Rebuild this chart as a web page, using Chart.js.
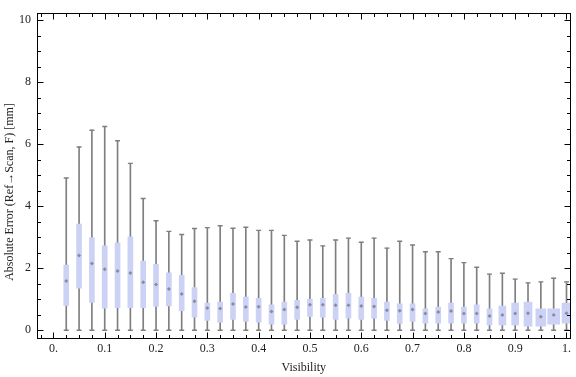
<!DOCTYPE html>
<html>
<head>
<meta charset="utf-8">
<script src="https://cdn.jsdelivr.net/npm/chart.js@4.4.1/dist/chart.umd.min.js"></script>
<style>
  html, body { margin: 0; padding: 0; background: #fff; }
</style>
</head>
<body>
<canvas id="errorChart" width="576" height="377"></canvas>
<script>
// visibility bins (box centres)
const visibility = [0.025, 0.05, 0.075, 0.1, 0.125, 0.15, 0.175, 0.2, 0.225, 0.25,
  0.275, 0.3, 0.325, 0.35, 0.375, 0.4, 0.425, 0.45, 0.475, 0.5,
  0.525, 0.55, 0.575, 0.6, 0.625, 0.65, 0.675, 0.7, 0.725, 0.75,
  0.775, 0.8, 0.825, 0.85, 0.875, 0.9, 0.925, 0.95, 0.975, 1.0];

// absolute error statistics per bin [mm]
const whiskerLow = [0, 0, 0, 0, 0, 0, 0, 0, 0, 0,
  0, 0, 0, 0, 0, 0, 0, 0, 0, 0,
  0, 0, 0, 0, 0, 0, 0, 0, 0, 0,
  0, 0, 0, 0, 0, 0, 0, 0, 0, 0];
const lowerQuartile = [0.80, 1.36, 0.90, 0.71, 0.73, 0.73, 0.73, 0.77, 0.79, 0.63,
  0.42, 0.32, 0.26, 0.35, 0.29, 0.26, 0.20, 0.20, 0.35, 0.45,
  0.42, 0.35, 0.39, 0.35, 0.39, 0.32, 0.22, 0.29, 0.23, 0.23,
  0.23, 0.23, 0.23, 0.17, 0.17, 0.17, 0.13, 0.13, 0.20, 0.23];
const median = [1.59, 2.41, 2.15, 1.97, 1.91, 1.85, 1.55, 1.48, 1.33, 1.17,
  0.94, 0.72, 0.70, 0.85, 0.75, 0.76, 0.61, 0.67, 0.74, 0.82,
  0.82, 0.81, 0.81, 0.78, 0.77, 0.65, 0.63, 0.67, 0.54, 0.59,
  0.62, 0.54, 0.54, 0.46, 0.49, 0.54, 0.55, 0.44, 0.49, 0.55];
const upperQuartile = [2.10, 3.42, 2.98, 2.72, 2.82, 3.01, 2.23, 2.13, 1.85, 1.77,
  1.38, 0.88, 0.91, 1.19, 1.07, 1.03, 0.82, 0.91, 0.97, 1.00,
  1.03, 1.16, 1.19, 1.07, 1.03, 0.91, 0.85, 0.85, 0.69, 0.75,
  0.88, 0.75, 0.82, 0.69, 0.78, 0.88, 0.91, 0.69, 0.69, 0.88];
const whiskerHigh = [4.91, 5.91, 6.45, 6.57, 6.11, 5.38, 4.25, 3.53, 3.19, 3.09,
  3.28, 3.31, 3.37, 3.29, 3.32, 3.22, 3.22, 3.06, 2.87, 2.91,
  2.72, 2.91, 2.97, 2.84, 2.97, 2.65, 2.87, 2.75, 2.53, 2.53,
  2.31, 2.18, 2.03, 1.81, 1.84, 1.65, 1.53, 1.56, 1.68, 1.56];

// axis ticks
const xTickValues = [0, 0.1, 0.2, 0.3, 0.4, 0.5, 0.6, 0.7, 0.8, 0.9, 1];
const xTickLabels = ['0.', '0.1', '0.2', '0.3', '0.4', '0.5', '0.6', '0.7', '0.8', '0.9', '1.'];
const yTickValues = [0, 2, 4, 6, 8, 10];

const xTitle = 'Visibility';
const yTitle = 'Absolute Error (Ref\u2192Scan, F) [mm]';

const FONT = '"Liberation Serif", "Times New Roman", "DejaVu Serif", serif';
const BOX_COLOR = '#ccd2f5';
const WHISKER_COLOR = '#7f7f7f';

// the last bins are drawn with wider boxes
const defaultBoxWidth = 5;
const wideBoxes = { 34: 7, 35: 7, 36: 8, 37: 10, 38: 12, 39: 9 };

function createErrorChart() {
  const ctx = document.getElementById('errorChart');

  const whiskers = {
    type: 'bar',
    data: visibility.map((v, i) => ({ x: v, y: [whiskerLow[i], whiskerHigh[i]] })),
    backgroundColor: WHISKER_COLOR,
    barThickness: 1,
    grouped: false,
    order: 4
  };

  const groups = {};
  visibility.forEach((v, i) => {
    const w = wideBoxes[i] || defaultBoxWidth;
    (groups[w] = groups[w] || []).push({ x: v, y: [lowerQuartile[i], upperQuartile[i]] });
  });
  const boxes = Object.keys(groups).map(w => ({
    type: 'bar',
    data: groups[w],
    backgroundColor: BOX_COLOR,
    barThickness: Number(w),
    grouped: false,
    order: 3
  }));

  const caps = {
    type: 'scatter',
    data: visibility.map((v, i) => ({ x: v, y: whiskerHigh[i] }))
      .concat(visibility.map((v, i) => ({ x: v, y: whiskerLow[i] }))),
    pointStyle: 'line',
    radius: 2.5,
    borderColor: WHISKER_COLOR,
    borderWidth: 1.4,
    order: 2
  };

  const medians = {
    type: 'scatter',
    data: visibility.map((v, i) => ({ x: v, y: median[i] })),
    pointStyle: 'rectRot',
    radius: 2,
    backgroundColor: '#8a8c9c',
    borderWidth: 0,
    order: 1
  };

  // frame with inward ticks, Mathematica style
  const frameTicks = {
    id: 'frameTicks',
    afterDatasetsDraw(chart) {
      const { ctx, chartArea: a, scales: { x, y } } = chart;
      const L = Math.round(a.left) + 0.5, R = Math.round(a.right) - 0.5;
      const T = Math.round(a.top) + 0.5, B = Math.round(a.bottom) - 0.5;
      ctx.save();
      ctx.strokeStyle = '#000';
      ctx.lineWidth = 1;
      ctx.beginPath();
      for (let k = 0; k <= 20; k++) {
        const py = Math.round(y.getPixelForValue(k * 0.5)) + 0.5;
        const len = k % 4 === 0 ? 6 : 3.5;
        ctx.moveTo(L, py); ctx.lineTo(L + len, py);
        ctx.moveTo(R, py); ctx.lineTo(R - len, py);
      }
      for (let k = -1; k <= 40; k++) {
        const px = Math.round(x.getPixelForValue(k * 0.025)) + 0.5;
        const len = k % 4 === 0 ? 6 : 3.5;
        ctx.moveTo(px, B); ctx.lineTo(px, B - len);
        ctx.moveTo(px, T); ctx.lineTo(px, T + len);
      }
      ctx.stroke();
      ctx.strokeRect(L, T, R - L, B - T);

      ctx.fillStyle = '#222';
      ctx.font = '12px ' + FONT;
      ctx.textAlign = 'center';
      ctx.textBaseline = 'middle';
      ctx.translate(10, 192);
      ctx.rotate(-Math.PI / 2);
      ctx.fillText(yTitle, 0, 0);
      ctx.restore();
    }
  };

  try {
    new Chart(ctx, {
      type: 'bar',
      data: { datasets: [whiskers].concat(boxes, [caps, medians]) },
      options: {
        responsive: false,
        animation: false,
        layout: { padding: { left: 0, right: 1, top: 4, bottom: 0 } },
        plugins: { legend: { display: false }, tooltip: { enabled: false } },
        scales: {
          x: {
            type: 'linear',
            offset: false,
            min: -0.032,
            max: 1.008,
            afterBuildTicks: s => { s.ticks = xTickValues.map(v => ({ value: v })); },
            afterFit: s => { s.height = 38; },
            grid: { display: false, drawTicks: false },
            border: { display: false },
            ticks: {
              autoSkip: false,
              maxRotation: 0,
              padding: 3,
              color: '#222',
              font: { family: FONT, size: 12 },
              callback: (v, i) => xTickLabels[i]
            },
            title: {
              display: true,
              text: xTitle,
              color: '#222',
              font: { family: FONT, size: 12 },
              padding: { top: 0, bottom: 2 }
            }
          },
          y: {
            min: -0.28,
            max: 10.22,
            afterBuildTicks: s => { s.ticks = yTickValues.map(v => ({ value: v })); },
            afterFit: s => { s.width = 37; },
            grid: { display: false, drawTicks: false },
            border: { display: false },
            ticks: {
              padding: 6,
              color: '#222',
              font: { family: FONT, size: 12 }
            }
          }
        }
      },
      plugins: [frameTicks]
    });
  } catch (error) {
    console.error('Error creating chart:', error);
  }
}

createErrorChart();
</script>
</body>
</html>
